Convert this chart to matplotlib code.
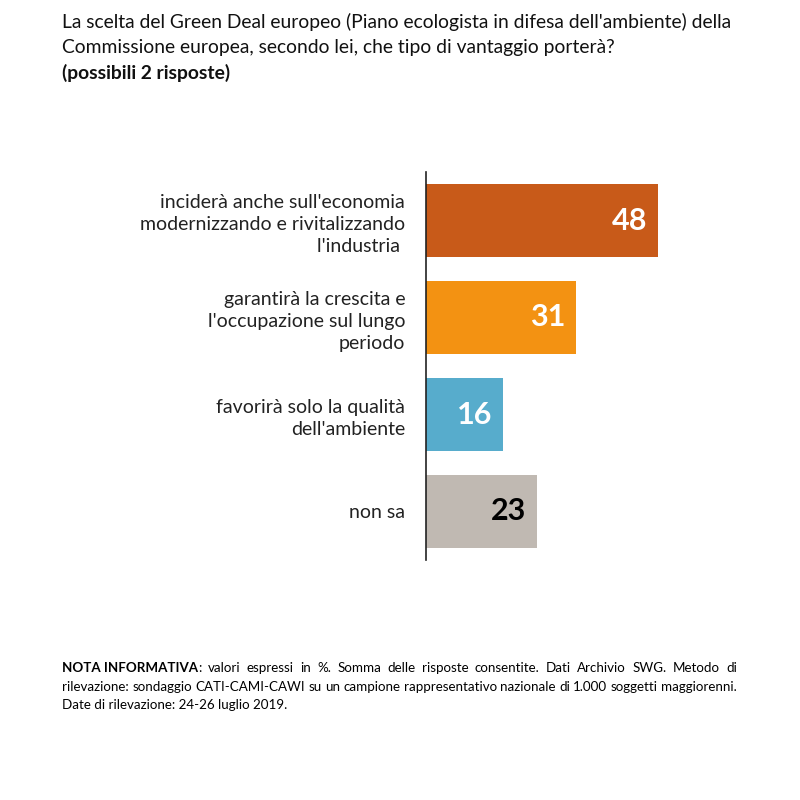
import matplotlib

matplotlib.use("Agg")
import matplotlib.pyplot as plt

plt.rcParams["font.family"] = ["Lato", "DejaVu Sans"]

categories = [
    "incider\u00e0 anche sull'economia\nmodernizzando e rivitalizzando\nl'industria ",
    "garantir\u00e0 la crescita e\nl'occupazione sul lungo\nperiodo",
    "favorir\u00e0 solo la qualit\u00e0\ndell'ambiente",
    "non sa",
]
values = [48, 31, 16, 23]
colors = ["#C85A19", "#F39212", "#57ACCC", "#C0B9B2"]
value_colors = ["white", "white", "white", "black"]

title_lines = [
    "La scelta del Green Deal europeo (Piano ecologista in difesa dell'ambiente) della",
    "Commissione europea, secondo lei, che tipo di vantaggio porter\u00e0?",
]
subtitle = "(possibili 2 risposte)"
note_lines = [
    ("NOTA INFORMATIVA", ": valori espressi in %. Somma delle risposte consentite. Dati Archivio SWG. Metodo di", True),
    ("", "rilevazione: sondaggio CATI-CAMI-CAWI su un campione rappresentativo nazionale di 1.000 soggetti maggiorenni.", True),
    ("", "Date di rilevazione: 24-26 luglio 2019.", False),
]

fig = plt.figure(figsize=(8, 8), dpi=100)
ax = fig.add_axes([426 / 800, 1 - 560 / 800, 241.6 / 800, 388 / 800])

ypos = list(range(len(values)))
ax.barh(ypos, values, height=0.75, color=colors)
ax.set_xlim(0, 50)
ax.set_ylim(3.5, -0.5)
for y, v, c in zip(ypos, values, value_colors):
    ax.text(v - 2.2, y, str(v), ha="right", va="center", color=c,
            fontsize=22, fontweight="bold")

ax.set_yticks(ypos)
ax.set_yticklabels(categories, fontsize=14, linespacing=1.38, color="#222222")
ax.tick_params(axis="y", length=0, pad=15)
ax.set_xticks([])
for s in ["top", "right", "bottom"]:
    ax.spines[s].set_visible(False)
ax.spines["left"].set_color("#222222")
ax.spines["left"].set_linewidth(1.2)

# title
fig.text(62 / 800, 1 - 22 / 800, title_lines[0], fontsize=13.9, va="center", color="#111111")
fig.text(62 / 800, 1 - 47 / 800, title_lines[1], fontsize=13.9, va="center", color="#111111")
fig.text(62 / 800, 1 - 73 / 800, subtitle, fontsize=13.9, va="center", fontweight="bold", color="#111111")

# note, justified to the right edge
fig.canvas.draw()
renderer = fig.canvas.get_renderer()
note_y = [668, 687, 705]
x_left, x_right = 62, 737
fs = 9.6


def width_of(s, **kw):
    t = fig.text(0, 0, s, fontsize=fs, **kw)
    w = t.get_window_extent(renderer).width
    t.remove()
    return w


for (bold, rest, justify), y in zip(note_lines, note_y):
    yy = 1 - y / 800
    x = x_left
    if bold:
        tb = fig.text(x / 800, yy, bold, fontsize=fs, fontweight="bold", va="center")
        x = tb.get_window_extent(renderer).x1 * 800 / fig.bbox.width
    if not justify:
        fig.text(x / 800, yy, rest, fontsize=fs, va="center")
        continue
    words = rest.split(" ")
    widths = [width_of(w) for w in words]
    gap = (x_right - x - sum(widths)) / (len(words) - 1)
    for w, wd in zip(words, widths):
        fig.text(x / 800, yy, w, fontsize=fs, va="center")
        x += wd + gap

fig.savefig("out.png", dpi=100)
